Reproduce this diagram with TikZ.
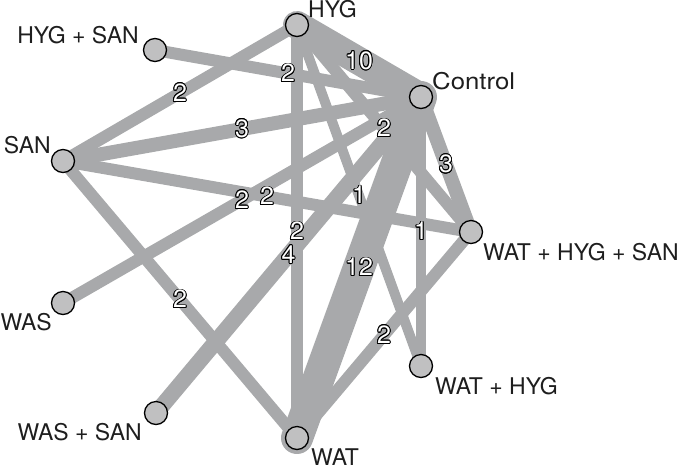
\documentclass[tikz,border=0pt]{standalone}
\usepackage{fontspec}
\setmainfont{TeX Gyre Heros}
\usepackage[copies]{contour}
\contourlength{0.85pt}
\definecolor{edgegray}{RGB}{168,169,171}
\definecolor{nodegray}{RGB}{192,192,193}
\definecolor{txtblack}{RGB}{30,30,30}
\pgfdeclarelayer{edges}
\pgfsetlayers{edges,main}
\newcommand{\ct}[1]{\contour{black}{#1}}
\begin{document}
\begin{tikzpicture}[x=1pt,y=-1pt,
  trt/.style={circle, draw=black, line width=1.3pt, fill=nodegray, minimum size=23pt, inner sep=0pt},
  tlab/.style={font=\fontsize{23}{27}\selectfont, inner sep=0pt, text=txtblack},
  conn/.style={draw=edgegray, line cap=round},
  elab/.style={font=\fontsize{25}{29}\selectfont, inner sep=0pt, text=white},
  wa/.style={line width=10pt},
  wb/.style={line width=12pt},
  wc/.style={line width=14pt},
  wd/.style={line width=16pt},
  wj/.style={line width=28pt},
  wl/.style={line width=32pt}
]
\useasboundingbox (0,0) rectangle (685,467);

% treatment nodes
\node[trt] (HYG)    at (297,25)  {};
\node[trt] (HYGSAN) at (155,50)  {};
\node[trt] (CTRL)   at (421,97)  {};
\node[trt] (SAN)    at (63,161)  {};
\node[trt] (WHS)    at (471,232) {};
\node[trt] (WAS)    at (63,303)  {};
\node[trt] (WH)     at (421,366) {};
\node[trt] (WASSAN) at (156,413) {};
\node[trt] (WAT)    at (297,438) {};

% treatment labels
\node[tlab, anchor=base west] (lHYG)    at (308,17)  {HYG};
\node[tlab, anchor=base east] (lHYGSAN) at (139,43)  {HYG + SAN};
\node[tlab, anchor=base west] (lCTRL)   at (432,89)  {\scalebox{1.12}[1]{Control}};
\node[tlab, anchor=base east] (lSAN)    at (51,153)  {SAN};
\node[tlab, anchor=base west] (lWHS)    at (483,260) {WAT + HYG + SAN};
\node[tlab, anchor=base east] (lWAS)    at (52,330)  {WAS};
\node[tlab, anchor=base west] (lWH)     at (435,394) {WAT + HYG};
\node[tlab, anchor=base east] (lWASSAN) at (142,440) {WAS + SAN};
\node[tlab, anchor=base west] (lWAT)    at (311,465.5) {WAT};

% connectors
\begin{pgfonlayer}{edges}
\draw[conn, wb] (HYGSAN.center) -- (CTRL.center);
\draw[conn, wj] (HYG.center) -- (CTRL.center);
\draw[conn, wb] (SAN.center) -- (HYG.center);
\draw[conn, wc] (SAN.center) -- (CTRL.center);
\draw[conn, wb] (HYG.center) -- (WHS.center);
\draw[conn, wc] (CTRL.center) -- (WHS.center);
\draw[conn, wa] (HYG.center) -- (WH.center);
\draw[conn, wb] (WAS.center) -- (CTRL.center);
\draw[conn, wb] (SAN.center) -- (WHS.center);
\draw[conn, wb] (HYG.center) -- (WAT.center);
\draw[conn, wd] (WASSAN.center) -- (CTRL.center);
\draw[conn, wa] (CTRL.center) -- (WH.center);
\draw[conn, wl] (CTRL.center) -- (WAT.center);
\draw[conn, wb] (SAN.center) -- (WAT.center);
\draw[conn, wb] (WAT.center) -- (WHS.center);
\end{pgfonlayer}

% connector labels
\path (HYGSAN) -- (CTRL) node[elab, midway] {\ct{2}};
\path (HYG) -- (CTRL) node[elab, midway] {\ct{10}};
\path (SAN) -- (HYG) node[elab, midway] {\ct{2}};
\path (SAN) -- (CTRL) node[elab, midway] {\ct{3}};
\path (HYG) -- (WHS) node[elab, midway] {\ct{2}};
\path (CTRL) -- (WHS) node[elab, midway] {\ct{3}};
\path (HYG) -- (WH) node[elab, midway] {\ct{1}};
\path (WAS) -- (CTRL) node[elab, midway] {\ct{2}};
\path (SAN) -- (WHS) node[elab, midway] {\ct{2}};
\path (HYG) -- (WAT) node[elab, midway] {\ct{2}};
\path (WASSAN) -- (CTRL) node[elab, midway] {\ct{4}};
\path (CTRL) -- (WH) node[elab, midway] {\ct{1}};
\path (CTRL) -- (WAT) node[elab, midway] {\ct{12}};
\path (SAN) -- (WAT) node[elab, midway] {\ct{2}};
\path (WAT) -- (WHS) node[elab, midway] {\ct{2}};
\end{tikzpicture}
\end{document}
